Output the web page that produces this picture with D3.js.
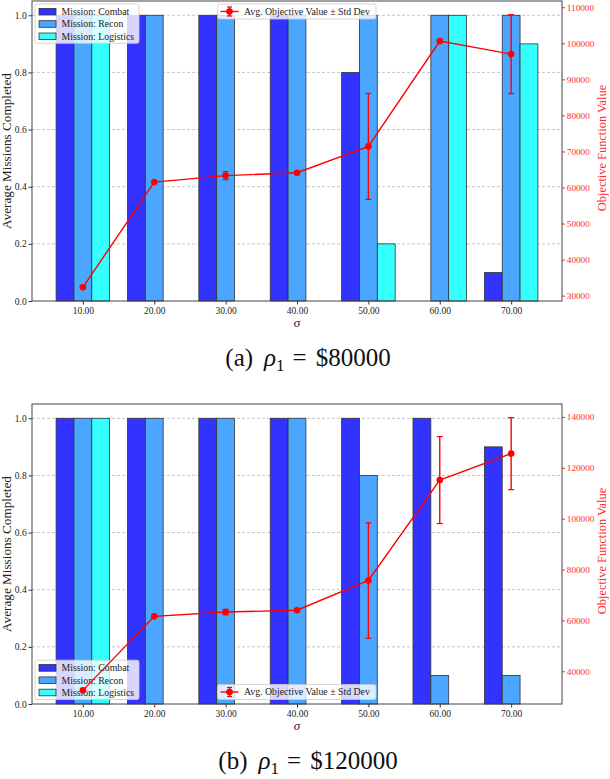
<!DOCTYPE html>
<html><head><meta charset="utf-8">
<script src="https://cdn.jsdelivr.net/npm/d3@7"></script>
<style>body{margin:0;background:#fff} svg{display:block}</style>
</head><body><svg id="c" width="610" height="779"></svg>
<script>
// ---------- data ----------
const categories = ["10.00","20.00","30.00","40.00","50.00","60.00","70.00"];
const missionNames = ["Mission: Combat","Mission: Recon","Mission: Logistics"];
const lineLabel = "Avg. Objective Value \u00b1 Std Dev";

const combatA    = [1, 1, 1, 1, 0.8, 0, 0.1];
const reconA     = [1, 1, 1, 1, 1, 1, 1];
const logisticsA = [1, 0, 0, 0, 0.2, 1, 0.9];
const objA       = [32300, 61500, 63300, 64100, 71400, 100600, 97000];
const stdA       = [0, 0, 1100, 0, 14700, 0, 10950];

const combatB    = [1, 1, 1, 1, 1, 1, 0.9];
const reconB     = [1, 1, 1, 1, 0.8, 0.1, 0.1];
const logisticsB = [1, 0, 0, 0, 0, 0, 0];
const objB       = [32500, 61600, 63300, 64000, 75700, 115200, 125600];
const stdB       = [0, 0, 1060, 0, 22700, 17100, 14150];

const leftTicks   = [0, 0.2, 0.4, 0.6, 0.8, 1.0];
const rightTicksA = [30000, 40000, 50000, 60000, 70000, 80000, 90000, 100000, 110000];
const rightTicksB = [40000, 60000, 80000, 100000, 120000, 140000];

const captionA = ["(a)", "$80000"];
const captionB = ["(b)", "$120000"];

// ---------- style ----------
const colors = ["#3333ff", "#4ba6ff", "#33ffff"];
const edge = "#333333";
const FONT = "'Liberation Serif','Times New Roman',serif";
const svg = d3.select("#c");
const L = 32, R = 562;

function drawChart(cfg) {
  const {top, bottom, series, obj, std, rightTicks, loc, caption} = cfg;
  const g = svg.append("g");
  const x = d3.scaleLinear().domain([-0.7125, 6.7125]).range([L, R]);
  const yL = d3.scaleLinear().domain([0, 1.05]).range([bottom, top]);
  const lo = d3.min(obj.map((v, i) => v - std[i]));
  const hi = d3.max(obj.map((v, i) => v + std[i]));
  const m = (hi - lo) * 0.05;
  const yR = d3.scaleLinear().domain([lo - m, hi + m]).range([bottom, top]);

  // grid
  g.append("g").selectAll("line").data(leftTicks.slice(1)).join("line")
    .attr("x1", L).attr("x2", R).attr("y1", d => yL(d)).attr("y2", d => yL(d))
    .attr("stroke", "#b8b8b8").attr("stroke-width", 0.8).attr("stroke-dasharray", "3,2");

  // bars
  const bw = 0.25;
  series.forEach((vals, k) => {
    const off = (k - 1) * bw;
    g.append("g").selectAll("rect").data(vals.map((v, i) => ({v, i})).filter(d => d.v > 0)).join("rect")
      .attr("x", d => x(d.i + off - bw / 2))
      .attr("width", x(bw) - x(0))
      .attr("y", d => yL(d.v))
      .attr("height", d => yL(0) - yL(d.v))
      .attr("fill", colors[k]).attr("stroke", edge).attr("stroke-width", 0.8);
  });

  // left axis
  const ax = g.append("g").attr("transform", `translate(${L},0)`)
    .call(d3.axisLeft(yL).tickValues(leftTicks).tickFormat(d3.format(".1f")).tickSize(3.5).tickPadding(1.8));
  ax.select(".domain").remove();
  ax.selectAll("text").style("font-family", FONT).style("font-size", "9.5px").attr("fill", "#222");
  ax.selectAll("line").attr("stroke", "#333");

  // bottom axis
  const bx = g.append("g").attr("transform", `translate(0,${bottom})`)
    .call(d3.axisBottom(x).tickValues(d3.range(categories.length)).tickFormat(i => categories[i]).tickSize(3.5).tickPadding(2.4));
  bx.select(".domain").remove();
  bx.selectAll("text").style("font-family", FONT).style("font-size", "9.5px").attr("fill", "#222");
  bx.selectAll("line").attr("stroke", "#333");

  // right axis
  const rx = g.append("g").attr("transform", `translate(${R},0)`)
    .call(d3.axisRight(yR).tickValues(rightTicks).tickFormat(d3.format("d")).tickSize(3).tickPadding(1.8));
  rx.select(".domain").remove();
  rx.selectAll("text").style("font-family", FONT).style("font-size", "9.2px").attr("fill", "#ff2a2a");
  rx.selectAll("line").attr("stroke", "#ff2a2a");

  // legend positions
  const barLegH = 39.3, objLegH = 15;
  const barY0 = loc === "upper" ? top + 3 : bottom - 4.5 - barLegH;
  const objY0 = loc === "upper" ? top + 3 : bottom - 4.5 - objLegH;

  // bar legend (belongs to left axes; line is drawn over it)
  const bl = g.append("g");
  bl.append("rect").attr("x", 35).attr("y", barY0).attr("width", 104).attr("height", barLegH)
    .attr("rx", 2).attr("fill", "#fff").attr("fill-opacity", 0.8)
    .attr("stroke", "#cccccc").attr("stroke-width", 0.8);
  missionNames.forEach((name, k) => {
    const cy = barY0 + 7.7 + k * 12.3;
    bl.append("rect").attr("x", 39).attr("y", cy - 3.3).attr("width", 17).attr("height", 6.6)
      .attr("fill", colors[k]).attr("stroke", edge).attr("stroke-width", 0.8);
    bl.append("text").attr("x", 61.5).attr("y", cy + 3.3).text(name)
      .style("font-family", FONT).style("font-size", "9.8px").attr("fill", "#222");
  });

  // objective line with error bars
  const lg = g.append("g");
  lg.append("path").datum(obj)
    .attr("d", d3.line().x((d, i) => x(i)).y(d => yR(d)))
    .attr("fill", "none").attr("stroke", "#ff0000").attr("stroke-width", 1.4);
  obj.forEach((v, i) => {
    if (std[i] > 0) {
      const cx = x(i);
      lg.append("line").attr("x1", cx).attr("x2", cx).attr("y1", yR(v - std[i])).attr("y2", yR(v + std[i]))
        .attr("stroke", "#ff0000").attr("stroke-width", 1.4);
      [v - std[i], v + std[i]].forEach(e => {
        lg.append("line").attr("x1", cx - 3).attr("x2", cx + 3).attr("y1", yR(e)).attr("y2", yR(e))
          .attr("stroke", "#ff0000").attr("stroke-width", 1.2);
      });
    }
  });
  lg.selectAll("circle").data(obj).join("circle")
    .attr("cx", (d, i) => x(i)).attr("cy", d => yR(d)).attr("r", 3.3).attr("fill", "#ff0000");

  // objective legend
  const ol = g.append("g");
  ol.append("rect").attr("x", 217.5).attr("y", objY0).attr("width", 158.5).attr("height", objLegH)
    .attr("rx", 2).attr("fill", "#fff").attr("fill-opacity", 0.8)
    .attr("stroke", "#cccccc").attr("stroke-width", 0.8);
  const oy = objY0 + 7.5;
  ol.append("line").attr("x1", 220.5).attr("x2", 238.5).attr("y1", oy).attr("y2", oy)
    .attr("stroke", "#ff0000").attr("stroke-width", 1.4);
  ol.append("line").attr("x1", 229.5).attr("x2", 229.5).attr("y1", oy - 4.5).attr("y2", oy + 4.5)
    .attr("stroke", "#ff0000").attr("stroke-width", 1.4);
  [oy - 4.5, oy + 4.5].forEach(e => ol.append("line").attr("x1", 227).attr("x2", 232).attr("y1", e).attr("y2", e)
    .attr("stroke", "#ff0000").attr("stroke-width", 1.2));
  ol.append("circle").attr("cx", 229.5).attr("cy", oy).attr("r", 3.3).attr("fill", "#ff0000");
  ol.append("text").attr("x", 244).attr("y", oy + 3.3).text(lineLabel)
    .style("font-family", FONT).style("font-size", "9.8px").attr("fill", "#222");

  // spines
  g.append("rect").attr("x", L).attr("y", top).attr("width", R - L).attr("height", bottom - top)
    .attr("fill", "none").attr("stroke", "#444").attr("stroke-width", 1);

  // axis titles
  const midY = (top + bottom) / 2;
  g.append("text").attr("transform", `translate(11,${midY}) rotate(-90)`).attr("text-anchor", "middle")
    .text("Average Missions Completed").style("font-family", FONT).style("font-size", "13.2px").attr("fill", "#222");
  g.append("text").attr("transform", `translate(606,${midY - 3}) rotate(-90)`).attr("text-anchor", "middle")
    .text("Objective Function Value").style("font-family", FONT).style("font-size", "12.4px").attr("fill", "#ff2a2a");
  g.append("text").attr("x", (L + R) / 2).attr("y", bottom + 26).attr("text-anchor", "middle")
    .text("\u03c3").style("font-family", FONT).style("font-style", "italic").style("font-size", "13px").attr("fill", "#222");

  // caption
  const cap = svg.append("text").attr("x", 308).attr("y", bottom + 65).attr("text-anchor", "middle")
    .style("font-family", FONT).style("font-size", "25px").attr("fill", "#111");
  cap.append("tspan").text(caption[0]);
  cap.append("tspan").attr("dx", 11).style("font-style", "italic").text("\u03c1");
  cap.append("tspan").attr("dy", 5).style("font-size", "17px").text("1");
  cap.append("tspan").attr("dy", -5).attr("dx", 8).text("=");
  cap.append("tspan").attr("dx", 9).text(caption[1]);
}

drawChart({top: 1, bottom: 301, series: [combatA, reconA, logisticsA], obj: objA, std: stdA,
           rightTicks: rightTicksA, loc: "upper", caption: captionA});
drawChart({top: 404, bottom: 704, series: [combatB, reconB, logisticsB], obj: objB, std: stdB,
           rightTicks: rightTicksB, loc: "lower", caption: captionB});
</script>
</body></html>
